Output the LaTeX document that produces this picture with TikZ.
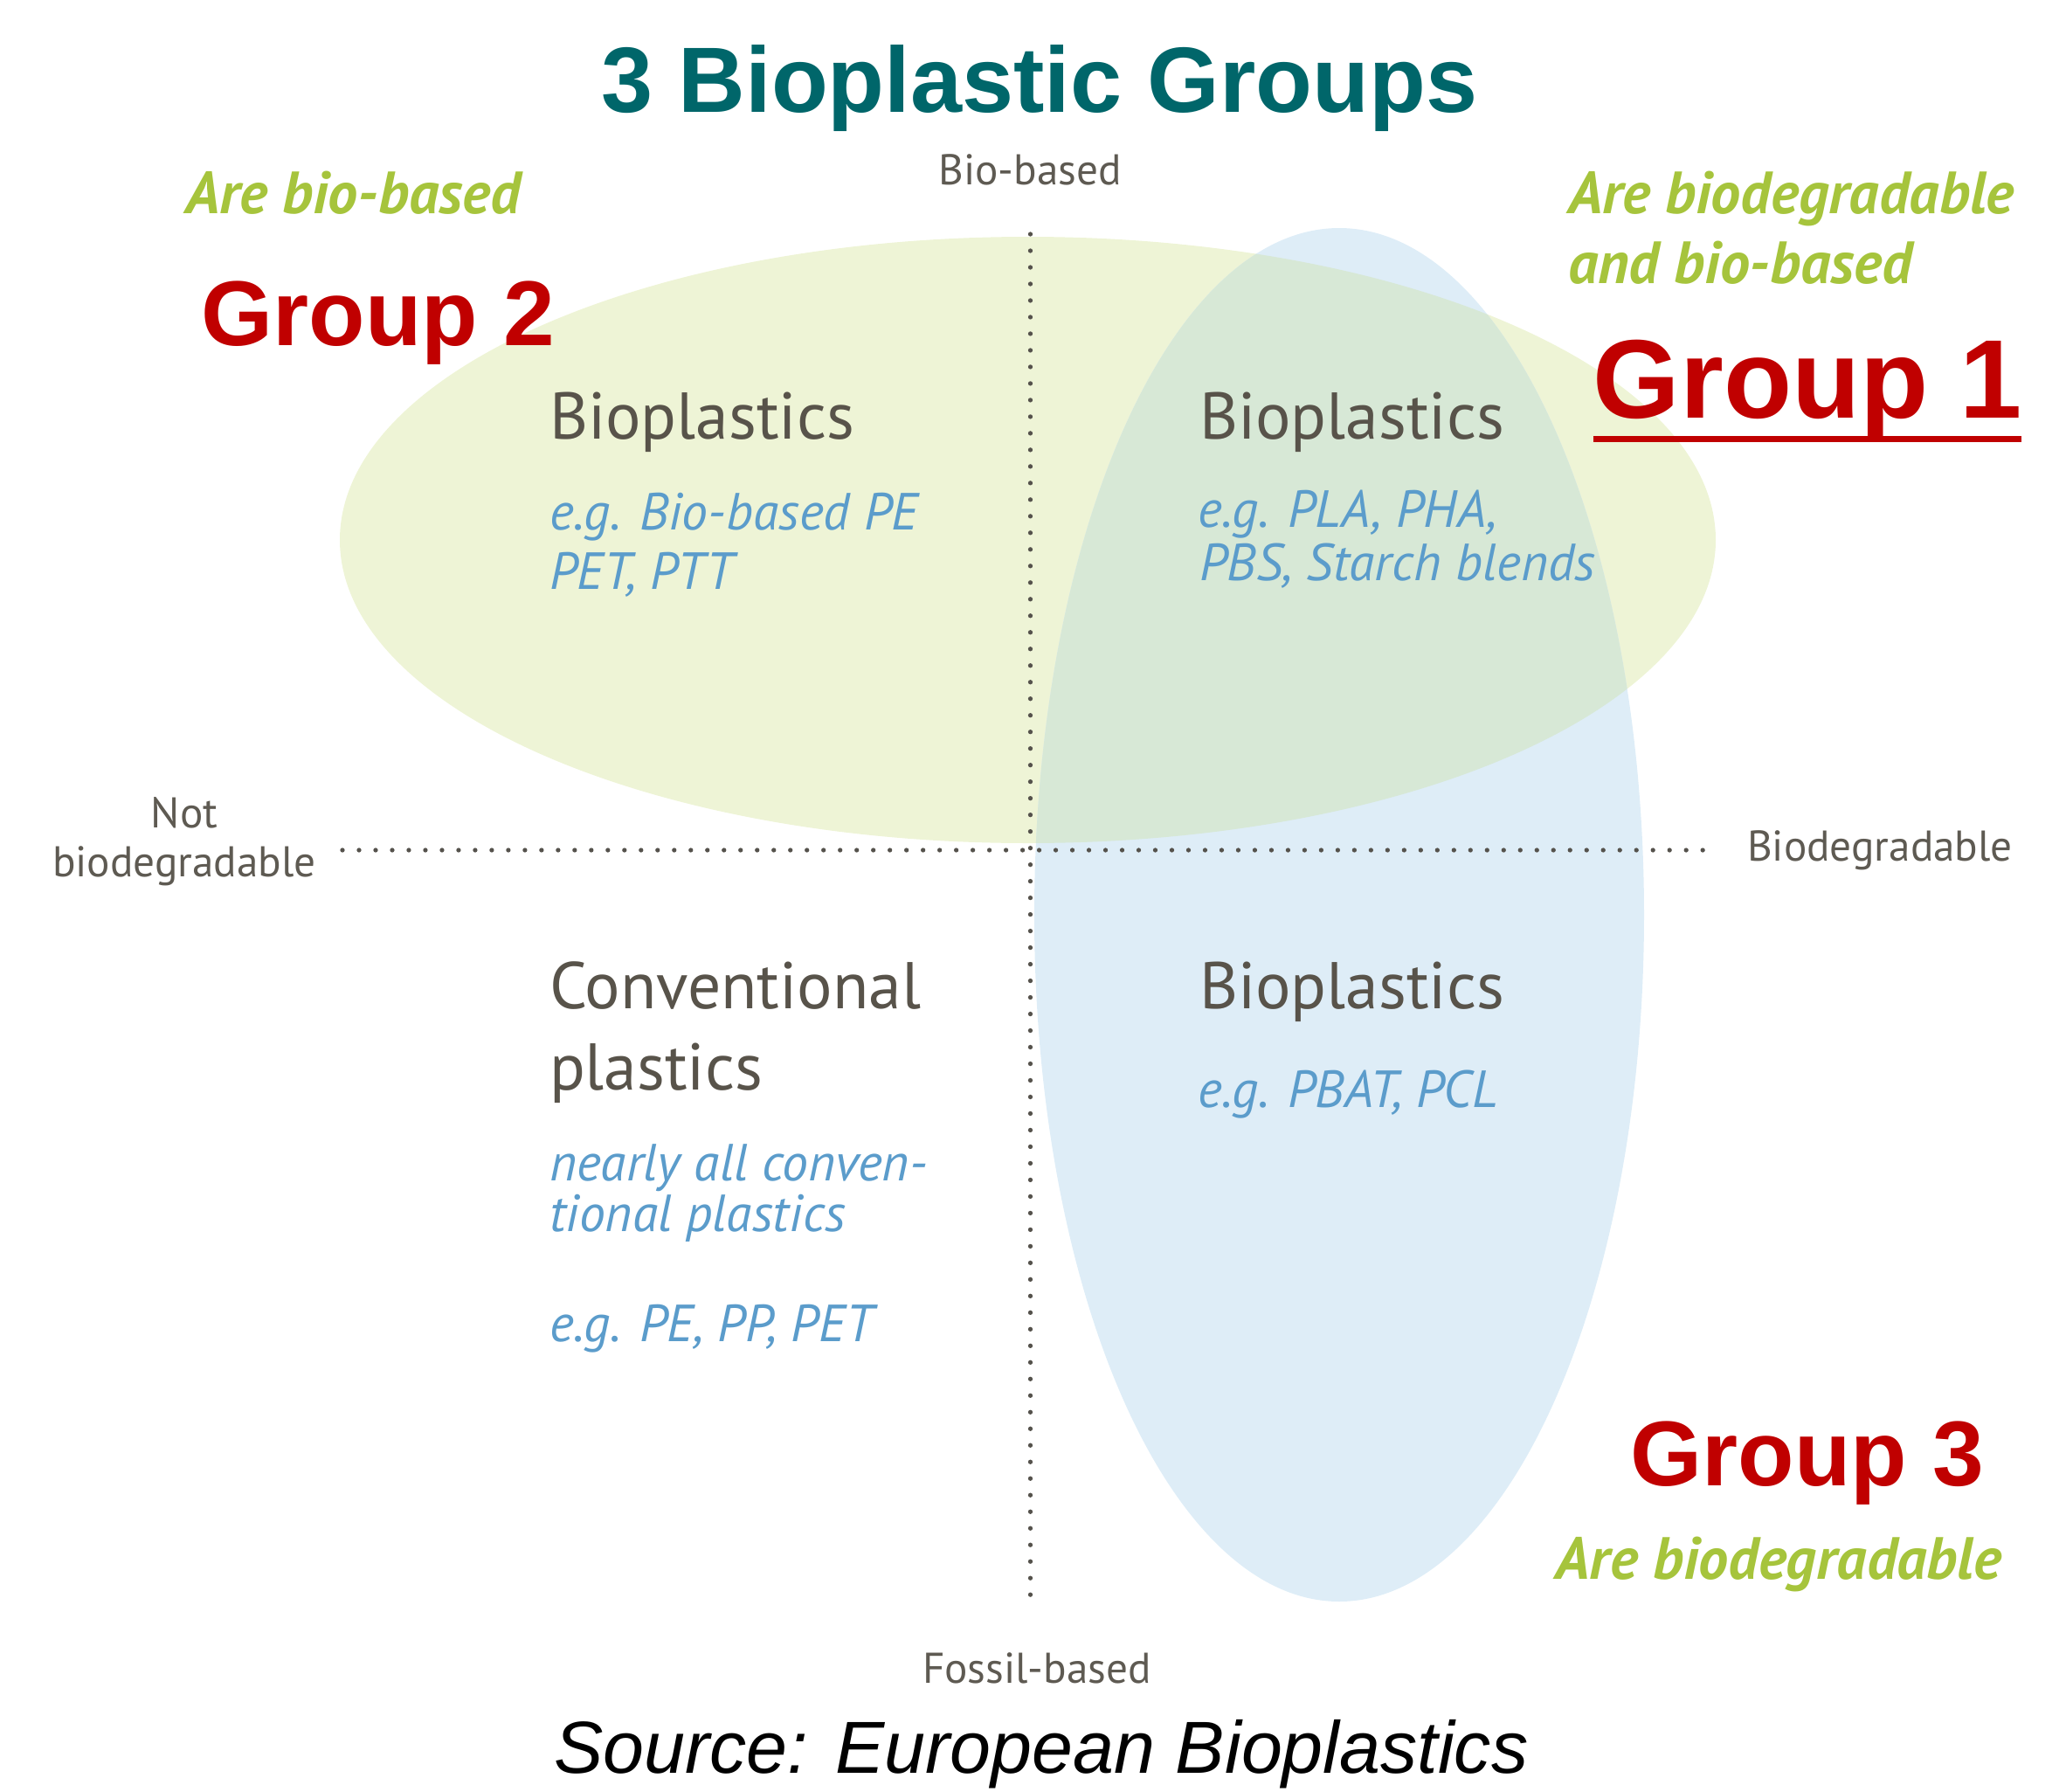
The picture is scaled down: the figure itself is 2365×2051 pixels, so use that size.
\documentclass[tikz,border=0pt]{standalone}
\usepackage{fontspec}
\setmainfont{Liberation Sans}
\newfontfamily\quadfont{PT Sans}

\definecolor{titleteal}{HTML}{00666A}
\definecolor{groupred}{HTML}{C00000}
\definecolor{notegreen}{HTML}{A6C43C}
\definecolor{headgrey}{HTML}{58534A}
\definecolor{axisgrey}{HTML}{5E5A52}
\definecolor{exblue}{HTML}{5B9CCB}
\definecolor{dotgrey}{HTML}{55524C}
\definecolor{greenfill}{HTML}{EEF4D6}
\definecolor{bluefill}{HTML}{DEEDF7}
\definecolor{bothfill}{HTML}{D7E8D6}

\begin{document}
\begin{tikzpicture}[x=0.01cm,y=-0.01cm,
  every node/.style={inner sep=0pt, outer sep=0pt},
  axislbl/.style={font=\quadfont\fontsize{14}{16}\selectfont, text=axisgrey, anchor=base},
  head/.style={font=\quadfont\fontsize{21.5}{26}\selectfont, text=headgrey, anchor=base west},
  example/.style={font=\quadfont\itshape\fontsize{17}{19}\selectfont, text=exblue, anchor=base west},
  note/.style={font=\quadfont\bfseries\itshape\fontsize{19.4}{22}\selectfont, text=notegreen},
  grouplbl/.style={font=\bfseries\fontsize{30}{36}\selectfont, text=groupred, anchor=base},
  dots/.style={line width=1.5pt, draw=dotgrey, dash pattern=on 0pt off 5.4pt, line cap=round}
]
\useasboundingbox (0,0) rectangle (2365,2051);

% the two property ellipses and their overlap
\fill[greenfill] (1176.5,618) ellipse [x radius=787.5, y radius=347];
\fill[bluefill] (1533,1047) ellipse [x radius=349, y radius=786];
\begin{scope}
  \clip (1176.5,618) ellipse [x radius=787.5, y radius=347];
  \fill[bothfill] (1533,1047) ellipse [x radius=349, y radius=786];
\end{scope}

% axes
\coordinate (vtop) at (1179.5,268);
\coordinate (vbot) at (1179.5,1840);
\coordinate (hleft) at (392,973);
\coordinate (hright) at (1961,973);
\draw[dots] (vtop) -- (vbot);
\draw[dots] (hleft) -- (hright);

% axis labels
\node[axislbl] (biobased) at (1179,211) {Bio-based};
\node[axislbl] (fossil) at (1187,1926) {Fossil-based};
\node[axislbl] (notbio1) at (211,947) {Not};
\node[axislbl] (notbio2) at (211,1003) {biodegradable};
\node[axislbl] (biodeg) at (2152,985) {Biodegradable};

% title and source
\node[font=\bfseries\fontsize{30.2}{36}\selectfont, text=titleteal, anchor=base] (title) at (1190,128) {3 Bioplastic Groups};
\node[font=\itshape\fontsize{24}{28}\selectfont, anchor=base] (source) at (1192,2029) {Source: European Bioplastics};

% group labels
\node[grouplbl] (g2) at (433,395) {Group 2};
\node[grouplbl, font=\bfseries\fontsize{36.4}{42}\selectfont] (g1) at (2069,478) {Group 1};
\draw[groupred, line width=2pt] ([yshift=-7pt]g1.base west) -- ([yshift=-7pt]g1.base east);
\node[grouplbl] (g3) at (2069,1700) {Group 3};

% property notes
\node[note, anchor=base] (n2) at (404,244) {Are bio-based};
\node[note, anchor=base west] (n1a) at (1795,244) {Are biodegradable};
\node[note, anchor=base west] (n1b) at (1795,324) {and bio-based};
\node[note, anchor=base] (n3) at (2036,1807) {Are biodegradable};

% quadrant top left
\node[head] (tlh) at (629,502) {Bioplastics};
\node[example] (tle1) at (629,606) {e.g. Bio-based PE};
\node[example] (tle2) at (629,674) {PET, PTT};

% quadrant top right
\node[head] (trh) at (1373,502) {Bioplastics};
\node[example] (tre1) at (1371,603) {e.g. PLA, PHA,};
\node[example] (tre2) at (1373,664) {PBS, Starch blends};

% quadrant bottom left
\node[head] (blh1) at (629,1154) {Conventional};
\node[head] (blh2) at (629,1247) {plastics};
\node[example] (ble1) at (629,1351) {nearly all conven-};
\node[example] (ble2) at (629,1409) {tional plastics};
\node[example] (ble3) at (629,1535) {e.g. PE, PP, PET};

% quadrant bottom right
\node[head] (brh) at (1373,1154) {Bioplastics};
\node[example] (bre) at (1371,1267) {e.g. PBAT, PCL};
\end{tikzpicture}
\end{document}
